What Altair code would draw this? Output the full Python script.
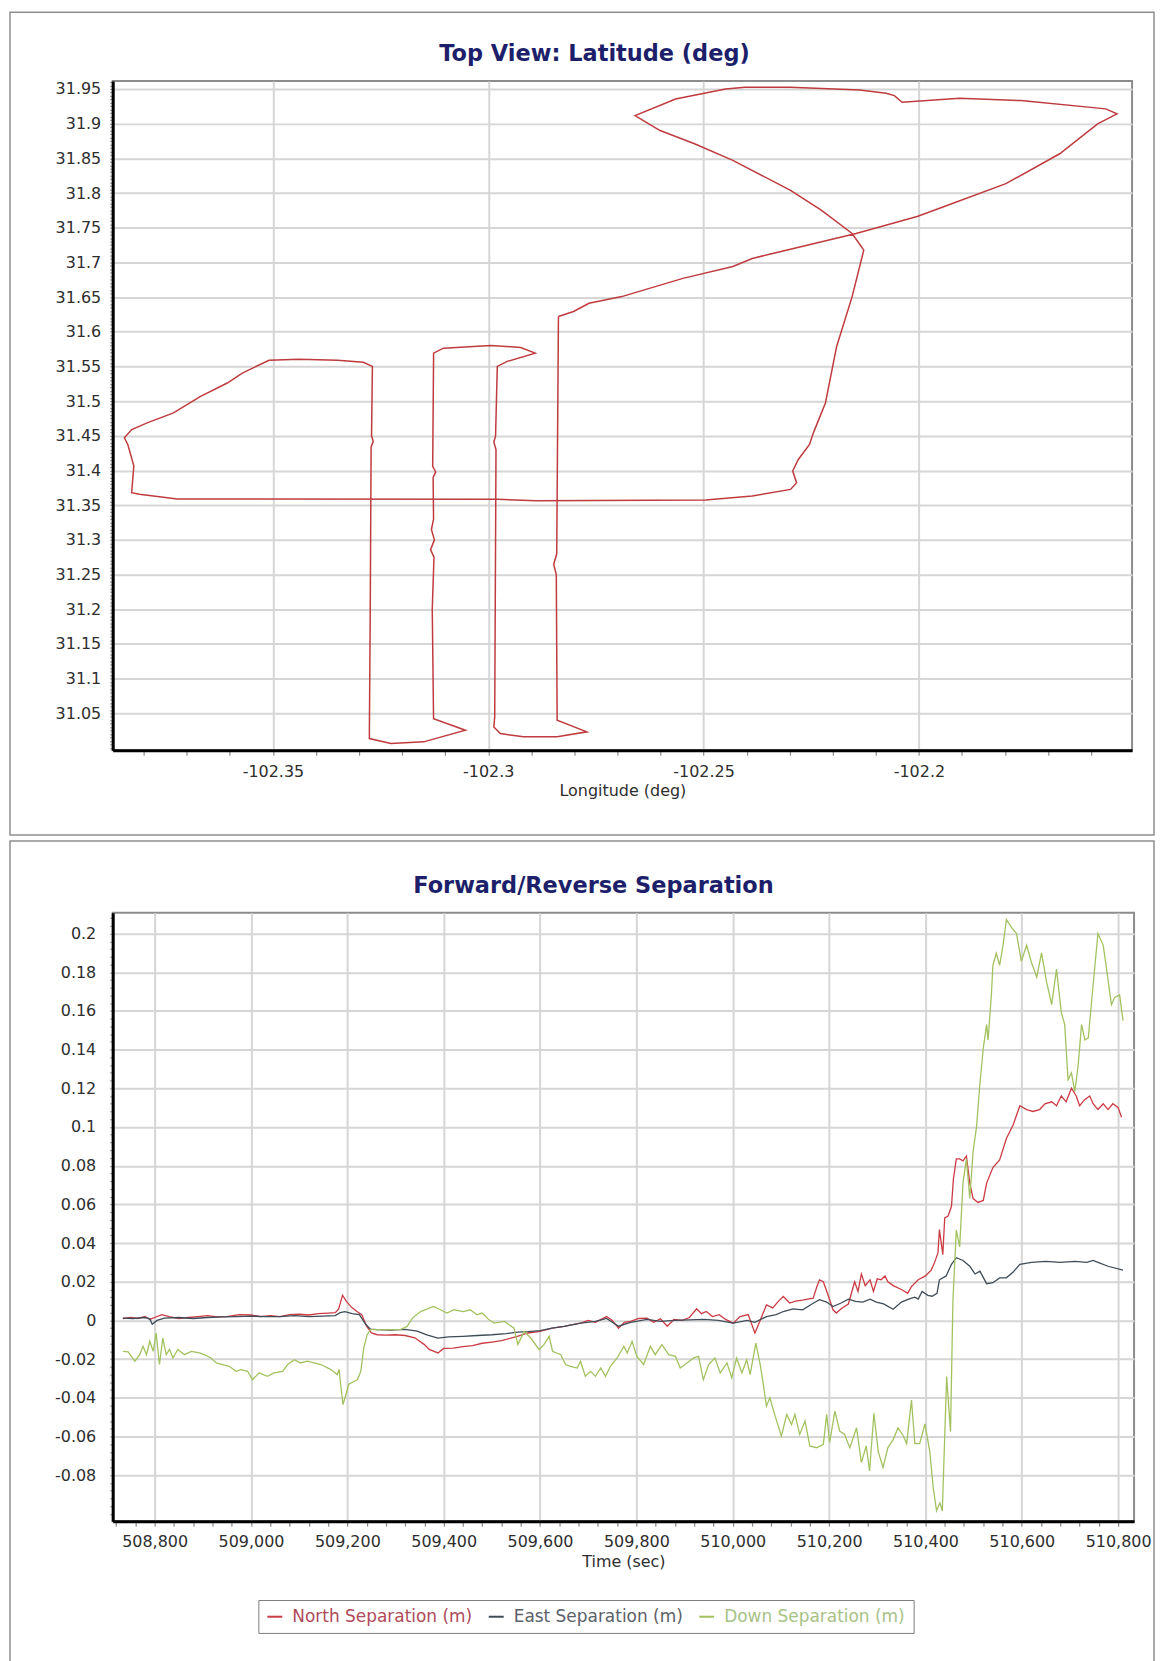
import altair as alt
import pandas as pd

# ---------------------------------------------------------------- texts
TOP_TITLE = "Top View: Latitude (deg)"
BOTTOM_TITLE = "Forward/Reverse Separation"
LON_TITLE = "Longitude (deg)"
TIME_TITLE = "Time (sec)"
SERIES = ["North Separation (m)", "East Separation (m)", "Down Separation (m)"]
SERIES_COLORS = ["#cc3a44", "#3f4c58", "#a3c25f"]
LABEL_COLORS = ["#b04a5a", "#5b6168", "#a8c287"]
TRACK_COLOR = "#bf3b3e"
TITLE_COLOR = "#1d1f6b"
FONT = "DejaVu Sans"

# ---------------------------------------------------------------- top panel: track (lon, lat)
TRACK = [
    (-102.2837, 31.6220), (-102.2802, 31.6292), (-102.2766, 31.6411), (-102.2690, 31.6507),
    (-102.2548, 31.6770), (-102.2432, 31.6942), (-102.2387, 31.7057), (-102.2146, 31.7417),
    (-102.2004, 31.7661), (-102.1941, 31.7805), (-102.1798, 31.8135), (-102.1673, 31.8566),
    (-102.1585, 31.8997), (-102.1540, 31.9141), (-102.1566, 31.9213), (-102.1763, 31.9332),
    (-102.1905, 31.9366), (-102.2039, 31.9309), (-102.2057, 31.9404), (-102.2076, 31.9438),
    (-102.2138, 31.9486), (-102.2298, 31.9524), (-102.2404, 31.9524), (-102.2449, 31.9500),
    (-102.2565, 31.9356), (-102.2659, 31.9116), (-102.2601, 31.8901), (-102.2521, 31.8710),
    (-102.2432, 31.8470), (-102.2298, 31.8039), (-102.2226, 31.7751), (-102.2155, 31.7417),
    (-102.2128, 31.7177), (-102.2155, 31.6507), (-102.2191, 31.5789), (-102.2217, 31.4974),
    (-102.2245, 31.4543), (-102.2254, 31.4375), (-102.2280, 31.4159), (-102.2293, 31.3993),
    (-102.2284, 31.3825), (-102.2298, 31.3728), (-102.2387, 31.3634), (-102.2495, 31.3576),
    (-102.2888, 31.3565), (-102.2978, 31.3585), (-102.3722, 31.3590), (-102.3810, 31.3657),
    (-102.3828, 31.3681), (-102.3823, 31.4069), (-102.3837, 31.4375), (-102.3845, 31.4471),
    (-102.3828, 31.4590), (-102.3792, 31.4687), (-102.3731, 31.4830), (-102.3668, 31.5070),
    (-102.3606, 31.5261), (-102.3571, 31.5405), (-102.3509, 31.5590), (-102.3440, 31.5605),
    (-102.3350, 31.5590), (-102.3290, 31.5560), (-102.3269, 31.5501), (-102.3271, 31.4500),
    (-102.3267, 31.4420), (-102.3272, 31.4340), (-102.3274, 31.2000), (-102.3276, 31.0250),
    (-102.3276, 31.0136), (-102.3226, 31.0065), (-102.3150, 31.0089), (-102.3053, 31.0257),
    (-102.3127, 31.0424), (-102.3130, 31.2000), (-102.3126, 31.2750), (-102.3134, 31.2860),
    (-102.3125, 31.3000), (-102.3132, 31.3150), (-102.3127, 31.3300), (-102.3128, 31.3900),
    (-102.3122, 31.3980), (-102.3129, 31.4060), (-102.3127, 31.5600), (-102.3127, 31.5692),
    (-102.3104, 31.5764), (-102.2994, 31.5803), (-102.2925, 31.5774), (-102.2891, 31.5692),
    (-102.2956, 31.5573), (-102.2979, 31.5501), (-102.2983, 31.4500), (-102.2987, 31.4410),
    (-102.2982, 31.4300), (-102.2985, 31.0450), (-102.2987, 31.0304), (-102.2972, 31.0208),
    (-102.2918, 31.0161), (-102.2840, 31.0161), (-102.2771, 31.0233), (-102.2840, 31.0401),
    (-102.2842, 31.2500), (-102.2848, 31.2650), (-102.2841, 31.2800), (-102.2837, 31.6220),
]

# ---------------------------------------------------------------- bottom panel: (time, value)
NORTH = [
    (508734, 0.001), (508750, 0.0015), (508765, 0.001), (508780, 0.002), (508790, 0.0005),
    (508800, 0.0015), (508815, 0.003), (508830, 0.002), (508850, 0.001), (508870, 0.0015),
    (508890, 0.002), (508910, 0.0025), (508930, 0.0018), (508950, 0.002), (508975, 0.003),
    (509000, 0.0028), (509020, 0.002), (509040, 0.0025), (509060, 0.002), (509080, 0.003),
    (509100, 0.0032), (509120, 0.0028), (509140, 0.0035), (509160, 0.0038), (509175, 0.004),
    (509182, 0.006), (509190, 0.013), (509198, 0.0098), (509210, 0.0065), (509220, 0.0046),
    (509230, 0.003), (509240, -0.003), (509250, -0.0065), (509262, -0.0074), (509280, -0.0076),
    (509300, -0.0074), (509320, -0.0078), (509340, -0.009), (509360, -0.0125), (509370, -0.015),
    (509380, -0.016), (509388, -0.0168), (509400, -0.0145), (509420, -0.0143), (509440, -0.0135),
    (509460, -0.013), (509480, -0.0118), (509500, -0.0112), (509520, -0.0105), (509553, -0.0082),
    (509575, -0.0065), (509600, -0.0057), (509625, -0.004), (509650, -0.0031), (509670, -0.002),
    (509684, -0.0014), (509700, 0.0), (509715, -0.001), (509738, 0.002), (509750, 0.0),
    (509763, -0.004), (509775, -0.001), (509788, -0.0005), (509805, 0.001), (509822, 0.0012),
    (509836, -0.001), (509850, 0.0008), (509864, -0.003), (509878, 0.0005), (509895, 0.0),
    (509910, 0.0015), (509925, 0.006), (509935, 0.0035), (509945, 0.0046), (509958, 0.002),
    (509972, 0.003), (509985, 0.0005), (510001, -0.0014), (510015, 0.002), (510032, 0.003),
    (510046, -0.0065), (510056, -0.0005), (510070, 0.008), (510083, 0.0065), (510095, 0.01),
    (510105, 0.0124), (510118, 0.009), (510130, 0.01), (510145, 0.0105), (510155, 0.011),
    (510167, 0.0115), (510174, 0.017), (510180, 0.021), (510188, 0.02), (510198, 0.013),
    (510208, 0.0055), (510215, 0.0038), (510225, 0.006), (510240, 0.0085), (510253, 0.02),
    (510260, 0.015), (510267, 0.024), (510275, 0.018), (510285, 0.021), (510292, 0.015),
    (510300, 0.0215), (510308, 0.021), (510316, 0.023), (510322, 0.02), (510333, 0.018),
    (510350, 0.016), (510363, 0.014), (510371, 0.0175), (510385, 0.021), (510400, 0.023),
    (510412, 0.026), (510419, 0.03), (510426, 0.035), (510429, 0.047), (510436, 0.034),
    (510440, 0.053), (510447, 0.054), (510454, 0.059), (510458, 0.073), (510464, 0.0835),
    (510471, 0.0835), (510478, 0.0825), (510485, 0.085), (510492, 0.071), (510499, 0.063),
    (510509, 0.061), (510520, 0.062), (510527, 0.071), (510540, 0.079), (510554, 0.083),
    (510568, 0.094), (510582, 0.101), (510596, 0.111), (510610, 0.109), (510623, 0.108),
    (510637, 0.109), (510648, 0.112), (510662, 0.113), (510672, 0.111), (510682, 0.116),
    (510692, 0.113), (510703, 0.12), (510713, 0.116), (510720, 0.111), (510730, 0.114),
    (510741, 0.116), (510748, 0.112), (510758, 0.109), (510769, 0.112), (510779, 0.109),
    (510789, 0.112), (510800, 0.11), (510807, 0.105),
]

EAST = [
    (508734, 0.0012), (508755, 0.001), (508780, 0.0015), (508790, 0.0008), (508795, -0.002),
    (508805, 0.0), (508820, 0.0012), (508850, 0.0015), (508880, 0.001), (508910, 0.0015),
    (508940, 0.0018), (508970, 0.002), (509000, 0.0022), (509030, 0.002), (509060, 0.002),
    (509090, 0.0025), (509120, 0.002), (509150, 0.0022), (509175, 0.0025), (509185, 0.004),
    (509195, 0.0045), (509210, 0.0035), (509225, 0.003), (509238, -0.002), (509248, -0.0045),
    (509262, -0.0048), (509290, -0.005), (509320, -0.0046), (509345, -0.0055), (509365, -0.0075),
    (509388, -0.0091), (509410, -0.0085), (509440, -0.0082), (509470, -0.0078), (509500, -0.0074),
    (509530, -0.0068), (509553, -0.006), (509575, -0.0058), (509600, -0.0053), (509625, -0.004),
    (509650, -0.0031), (509684, -0.0014), (509715, -0.0005), (509738, 0.001), (509763, -0.003),
    (509788, -0.001), (509822, 0.0005), (509850, -0.0005), (509878, 0.0), (509910, 0.0003),
    (509940, 0.0005), (509970, 0.0), (510001, -0.0014), (510030, 0.0), (510046, -0.001),
    (510070, 0.002), (510090, 0.003), (510105, 0.0046), (510125, 0.006), (510145, 0.0055),
    (510167, 0.0089), (510180, 0.0107), (510195, 0.0095), (510208, 0.0072), (510225, 0.009),
    (510240, 0.011), (510255, 0.0098), (510270, 0.0095), (510285, 0.011), (510298, 0.0095),
    (510313, 0.0085), (510333, 0.0058), (510350, 0.0095), (510365, 0.011), (510378, 0.012),
    (510385, 0.011), (510393, 0.015), (510405, 0.013), (510414, 0.0125), (510424, 0.014),
    (510429, 0.021), (510443, 0.023), (510454, 0.029), (510464, 0.0324), (510478, 0.031),
    (510492, 0.028), (510503, 0.024), (510513, 0.0255), (510527, 0.019), (510540, 0.0195),
    (510554, 0.022), (510568, 0.022), (510582, 0.025), (510596, 0.029), (510620, 0.03),
    (510650, 0.0305), (510680, 0.03), (510710, 0.0305), (510735, 0.03), (510748, 0.031),
    (510758, 0.03), (510779, 0.028), (510810, 0.026),
]

DOWN = [
    (508734, -0.016), (508745, -0.0163), (508759, -0.021), (508769, -0.0177), (508776, -0.0134),
    (508783, -0.0177), (508790, -0.0108), (508797, -0.016), (508803, -0.0065), (508810, -0.0228),
    (508817, -0.0091), (508824, -0.0177), (508831, -0.015), (508838, -0.0194), (508848, -0.015),
    (508862, -0.0177), (508876, -0.016), (508893, -0.0168), (508903, -0.0177), (508917, -0.0194),
    (508928, -0.022), (508941, -0.0228), (508955, -0.0237), (508969, -0.0263), (508979, -0.0254),
    (508993, -0.0263), (509003, -0.0306), (509017, -0.0271), (509034, -0.0289), (509048, -0.0271),
    (509066, -0.0263), (509076, -0.0228), (509090, -0.0203), (509103, -0.022), (509117, -0.0211),
    (509145, -0.0228), (509166, -0.0254), (509179, -0.028), (509183, -0.0254), (509186, -0.033),
    (509191, -0.0435), (509197, -0.0383), (509203, -0.033), (509221, -0.0306), (509228, -0.0263),
    (509234, -0.0143), (509241, -0.0074), (509248, -0.0048), (509262, -0.0048), (509290, -0.0048),
    (509310, -0.0048), (509324, -0.0031), (509335, 0.0012), (509352, 0.0046), (509379, 0.0072),
    (509393, 0.0055), (509407, 0.0038), (509421, 0.0055), (509441, 0.0046), (509455, 0.0055),
    (509469, 0.0029), (509479, 0.0038), (509484, 0.0029), (509494, 0.0003), (509505, -0.0014),
    (509526, -0.0005), (509546, -0.004), (509554, -0.0125), (509567, -0.0057), (509581, -0.0091),
    (509598, -0.0151), (509608, -0.0125), (509619, -0.0082), (509626, -0.016), (509643, -0.0177),
    (509653, -0.0228), (509663, -0.0237), (509677, -0.0246), (509684, -0.0211), (509694, -0.0289),
    (509705, -0.0263), (509715, -0.0289), (509726, -0.0246), (509736, -0.0289), (509746, -0.0237),
    (509760, -0.0194), (509774, -0.0134), (509781, -0.0168), (509791, -0.0108), (509801, -0.0186),
    (509815, -0.0228), (509829, -0.0134), (509839, -0.0177), (509853, -0.0125), (509867, -0.0177),
    (509881, -0.0186), (509891, -0.0246), (509905, -0.022), (509919, -0.0194), (509929, -0.0186),
    (509939, -0.0306), (509950, -0.0228), (509963, -0.0194), (509974, -0.0271), (509988, -0.022),
    (509998, -0.0297), (510008, -0.0194), (510019, -0.0271), (510029, -0.0203), (510036, -0.028),
    (510048, -0.0117), (510057, -0.0228), (510063, -0.0323), (510070, -0.0443), (510077, -0.04),
    (510088, -0.0495), (510101, -0.0598), (510112, -0.0486), (510122, -0.0538), (510129, -0.0486),
    (510139, -0.0589), (510150, -0.052), (510160, -0.0649), (510174, -0.0658), (510188, -0.0641),
    (510195, -0.0486), (510201, -0.0632), (510212, -0.0469), (510222, -0.0572), (510232, -0.0589),
    (510243, -0.0658), (510257, -0.0555), (510267, -0.0735), (510277, -0.0649), (510284, -0.0778),
    (510293, -0.048), (510302, -0.0678), (510312, -0.076), (510322, -0.0657), (510333, -0.0616),
    (510343, -0.0555), (510354, -0.0596), (510361, -0.0637), (510371, -0.0412), (510378, -0.0637),
    (510388, -0.0637), (510399, -0.0535), (510409, -0.0678), (510416, -0.0862), (510423, -0.0984),
    (510430, -0.0943), (510435, -0.0985), (510444, -0.029), (510452, -0.0575), (510457, 0.01),
    (510464, 0.0467), (510471, 0.038), (510478, 0.0712), (510485, 0.0835), (510492, 0.063),
    (510499, 0.0876), (510506, 0.1), (510513, 0.1223), (510520, 0.1407), (510527, 0.153),
    (510530, 0.145), (510537, 0.169), (510540, 0.1836), (510547, 0.1898), (510554, 0.1836),
    (510561, 0.1939), (510568, 0.2072), (510579, 0.203), (510589, 0.2), (510599, 0.1857),
    (510610, 0.1939), (510620, 0.185), (510631, 0.1775), (510641, 0.19), (510651, 0.1755),
    (510662, 0.1632), (510672, 0.1816), (510682, 0.1591), (510689, 0.153), (510696, 0.1244),
    (510703, 0.128), (510710, 0.1182), (510717, 0.132), (510724, 0.153), (510731, 0.145),
    (510738, 0.146), (510748, 0.1734), (510758, 0.2), (510769, 0.1939), (510776, 0.1816),
    (510786, 0.1632), (510793, 0.167), (510803, 0.1683), (510810, 0.155),
]

# ---------------------------------------------------------------- axes ticks / domains
TOP_X_TICKS = [round(-102.38 + 0.01 * i, 2) for i in range(23)]
TOP_Y_TICKS = [round(31.0 + 0.005 * i, 3) for i in range(193)]
BOT_X_TICKS = [508720 + 40 * i for i in range(53)]
BOT_Y_TICKS = [round(-0.1 + 0.004 * i, 3) for i in range(78)]

TOP_X_DOMAIN = [-102.3872, -102.1505]
TOP_Y_DOMAIN = [30.9968, 31.9615]
BOT_X_DOMAIN = [508713, 510833]
BOT_Y_DOMAIN = [-0.1038, 0.2107]

TOPX_TEST = "abs(datum.value*20 - round(datum.value*20)) < 0.01"
TOPX_LABEL = f"({TOPX_TEST}) ? (datum.value < 0 ? '-' : '') + format(abs(datum.value), '.2~f') : ''"
TOPY_TEST = "abs(datum.value*20 - round(datum.value*20)) < 0.01 && datum.value > 31.01"
TOPY_LABEL = f"({TOPY_TEST}) ? format(datum.value, '.2~f') : ''"
BOTX_TEST = "datum.value % 200 == 0"
BOTX_LABEL = f"({BOTX_TEST}) ? format(datum.value, ',') : ''"
BOTY_TEST = "abs(datum.value*50 - round(datum.value*50)) < 0.01 && datum.value > -0.09"
BOTY_LABEL = f"({BOTY_TEST}) ? (datum.value < -0.0001 ? '-' : '') + format(abs(datum.value), '.2~f') : ''"


def make_axis(values, test, label_expr, title=None, label_padding=10, tick_size=4, title_padding=4):
    kw = dict(
        values=values, labelExpr=label_expr, grid=True,
        gridOpacity={"condition": {"test": test, "value": 1}, "value": 0},
        gridColor="#d6d6d6", gridWidth=2,
        tickSize=tick_size, tickColor="#8c8c8c", tickWidth=1.2,
        domainColor="#000000", domainWidth=3,
        labelPadding=label_padding, labelOverlap=False, labelFlush=False,
        labelFont=FONT, labelFontSize=16, labelColor="#2e2e2e",
    )
    if title:
        kw.update(title=title, titleFont=FONT, titleFontSize=16, titleFontWeight="normal",
                  titleColor="#2e2e2e", titlePadding=title_padding)
    else:
        kw.update(title=None)
    return alt.Axis(**kw)


def panel_box(x1, x2, y1, y2):
    return alt.Chart(alt.Data(values=[{"box": 1}])).mark_rect(
        fill="white", fillOpacity=0, stroke="#8f8f8f", strokeWidth=1.5
    ).encode(x=alt.value(x1), x2=alt.value(x2), y=alt.value(y1), y2=alt.value(y2))


def title_mark(text, x, y):
    return alt.Chart(alt.Data(values=[{"t": text}])).mark_text(
        font=FONT, fontSize=22.5, fontWeight="bold", color=TITLE_COLOR,
        align="center", baseline="alphabetic"
    ).encode(x=alt.value(x), y=alt.value(y), text="t:N")


W_TOP, H_TOP = 1022, 671
W_BOT, H_BOT = 1024, 610

# ---------------------------------------------------------------- top chart
track_df = pd.DataFrame({
    "i": list(range(len(TRACK))),
    "lon": [p[0] for p in TRACK],
    "lat": [p[1] for p in TRACK],
})

track = alt.Chart(track_df).mark_line(color=TRACK_COLOR, strokeWidth=1.5, clip=True).encode(
    x=alt.X("lon:Q", scale=alt.Scale(domain=TOP_X_DOMAIN, nice=False, zero=False),
            axis=make_axis(TOP_X_TICKS, TOPX_TEST, TOPX_LABEL, title=LON_TITLE,
                           label_padding=8, tick_size=5, title_padding=3)),
    y=alt.Y("lat:Q", scale=alt.Scale(domain=TOP_Y_DOMAIN, nice=False, zero=False),
            axis=make_axis(TOP_Y_TICKS, TOPY_TEST, TOPY_LABEL, label_padding=9, tick_size=3)),
    order="i:Q",
)

top = alt.layer(
    panel_box(-103, 1044, -69, 756),
    track,
    title_mark(TOP_TITLE, 483, -20),
).properties(width=W_TOP, height=H_TOP)

# ---------------------------------------------------------------- bottom chart
rows = []
for name, pts in zip(SERIES, [NORTH, EAST, DOWN]):
    for t, v in pts:
        rows.append({"series": name, "t": t, "v": v})
sep_df = pd.DataFrame(rows)

label_color_expr = (
    f"datum.value == '{SERIES[0]}' ? '{LABEL_COLORS[0]}' : "
    f"datum.value == '{SERIES[1]}' ? '{LABEL_COLORS[1]}' : '{LABEL_COLORS[2]}'"
)

# legend coordinates are relative to the top-level (first panel) origin
legend = alt.Legend(
    title=None, orient="none", legendX=146, legendY=1523, direction="horizontal",
    symbolType="stroke", symbolSize=225, symbolStrokeWidth=2,
    labelFont=FONT, labelFontSize=17, labelColor=alt.ExprRef(expr=label_color_expr),
    labelOffset=9, columnPadding=12, padding=8, strokeColor="#7d7d7d",
    fillColor="white", labelLimit=400,
)

color_enc = alt.Color("series:N", scale=alt.Scale(domain=SERIES, range=SERIES_COLORS), legend=legend)
x_enc = alt.X("t:Q", scale=alt.Scale(domain=BOT_X_DOMAIN, nice=False, zero=False),
              axis=make_axis(BOT_X_TICKS, BOTX_TEST, BOTX_LABEL, title=TIME_TITLE,
                             label_padding=7, tick_size=5, title_padding=4))
y_enc = alt.Y("v:Q", scale=alt.Scale(domain=BOT_Y_DOMAIN, nice=False, zero=False),
              axis=make_axis(BOT_Y_TICKS, BOTY_TEST, BOTY_LABEL, label_padding=14, tick_size=3))

series_layers = [
    alt.Chart(sep_df).transform_filter(alt.datum.series == s)
    .mark_line(strokeWidth=1.3, clip=True)
    .encode(x=x_enc, y=y_enc, color=color_enc, order="t:Q")
    for s in SERIES
]

bottom = alt.layer(
    panel_box(-103, 1044, -72, 761),
    *series_layers,
    title_mark(BOTTOM_TITLE, 482, -20),
).properties(width=W_BOT, height=H_BOT)

chart = (
    alt.vconcat(top, bottom, spacing=2)
    .properties(padding=0, background="white")
    .configure_view(stroke="#8c8c8c", strokeWidth=2)
)

chart.save("out.html", embed_options={"renderer": "svg", "actions": False})
